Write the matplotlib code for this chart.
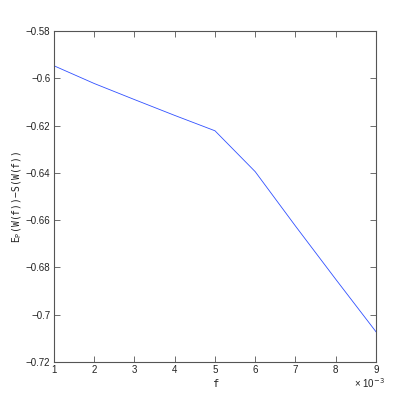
import matplotlib
matplotlib.use("Agg")
import matplotlib.pyplot as plt

# f in units of 1e-3
f = [1, 2, 3, 4, 5, 6, 7, 8, 9]
value = [-0.5947, -0.6022, -0.6090, -0.6157, -0.6222, -0.6395, -0.6625, -0.6850, -0.7072]
xticks = [1, 2, 3, 4, 5, 6, 7, 8, 9]
yticks = [-0.72, -0.70, -0.68, -0.66, -0.64, -0.62, -0.60, -0.58]
ytick_labels = ["\u22120.72", "\u22120.7", "\u22120.68", "\u22120.66", "\u22120.64", "\u22120.62", "\u22120.6", "\u22120.58"]

plt.rcParams['font.family'] = ['Liberation Sans', 'DejaVu Sans']
fig = plt.figure(figsize=(4.15, 4.08), dpi=100)
ax = fig.add_axes([0.130, 0.1127, 0.776, 0.8113])
ax.plot(f, value, color='#3050ff', linewidth=0.6)
ax.set_xlim(1, 9)
ax.set_ylim(-0.72, -0.58)
ax.set_xticks(xticks)
ax.set_xticklabels([str(t) for t in xticks])
ax.set_yticks(yticks)
ax.set_yticklabels(ytick_labels)
for s in ax.spines.values():
    s.set_color('#555555')
    s.set_linewidth(0.8)
ax.tick_params(direction='in', length=4, width=0.6, colors='#555555', labelcolor='#222222',
               labelsize=7, top=True, right=True, pad=2.5)
ax.set_xlabel('f', fontsize=7.5, family='DejaVu Sans Mono', color='#222222')
ax.xaxis.set_label_coords(0.5, -0.05)
ax.set_ylabel('E$_\\mathregular{P}$(W(f))\u2212S(W(f))', fontsize=7, family='DejaVu Sans Mono', color='#222222')
ax.yaxis.set_label_coords(-0.092, 0.5)
fig.text(0.853, 0.061, '\u00d7 10$^{\u22123}$', fontsize=7, ha='left', va='center', color='#222222')
fig.savefig('out.png', dpi=100)
